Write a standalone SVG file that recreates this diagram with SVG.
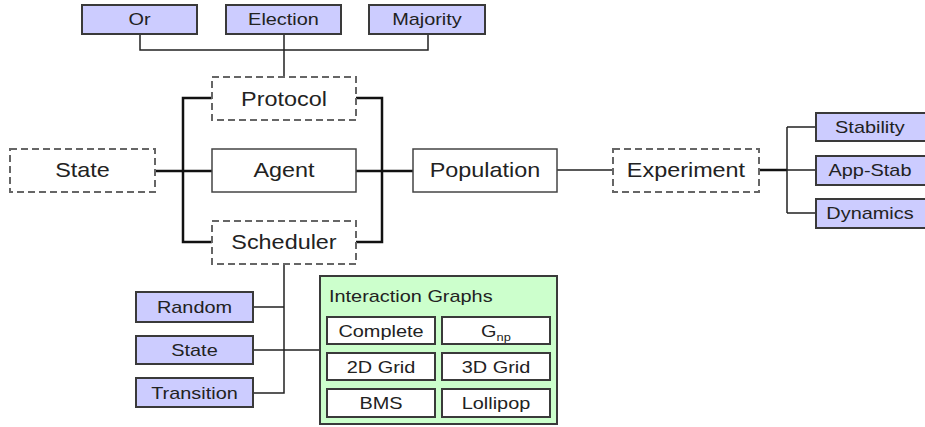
<svg xmlns="http://www.w3.org/2000/svg" width="925" height="427" viewBox="0 0 925 427">
  <style>
    .lbl { font-family: "Liberation Sans", Arial, sans-serif; fill: #222; text-anchor: middle;
           transform-box: fill-box; transform-origin: center; transform: scaleX(1.17); }
    .big { font-size: 20px; }
    .small { font-size: 17px; }
    .left { text-anchor: start; transform-origin: left center; }
    .dash { fill: #fff; stroke: #666; stroke-width: 2; stroke-dasharray: 7 4; }
    .solid { fill: #fff; stroke: #444; stroke-width: 1.5; }
    .purple { fill: #ccccff; stroke: #3a3a3a; stroke-width: 2; }
    .green { fill: #ccffcc; stroke: #3a3a3a; stroke-width: 2; }
    .cell { fill: #fff; stroke: #3a3a3a; stroke-width: 2; }
    .wire { fill: none; stroke: #222; stroke-width: 1.5; }
    .bold { fill: none; stroke: #111; stroke-width: 2.5; }
  </style>

  <g id="connectors">
    <!-- protocol variants -->
    <path class="wire" d="M140 34 V50 H428 V34 M284 34 V77"/>
    <!-- agent brackets -->
    <path class="bold" d="M212 98 H183 V242 H212 M356 98 H382 V242 H356"/>
    <path class="bold" d="M155 171 H212 M356 171 H413"/>
    <!-- population to experiment -->
    <path class="wire" d="M557 170 H613"/>
    <!-- experiment outcomes -->
    <path class="bold" d="M759 170 H787"/>
    <path class="wire" d="M787 170 H816 M787 127 V213 M787 127 H816 M787 213 H816"/>
    <!-- scheduler variants -->
    <path class="wire" d="M284 264 V393 H253 M253 307 H284 M253 350 H320"/>
  </g>

  <g id="or"><rect class="purple" x="82" y="5" width="115" height="29"/><text class="lbl small" x="139.5" y="25">Or</text></g>
  <g id="election"><rect class="purple" x="226" y="5" width="115" height="29"/><text class="lbl small" x="283.5" y="25">Election</text></g>
  <g id="majority"><rect class="purple" x="369" y="5" width="116" height="29"/><text class="lbl small" x="427" y="25">Majority</text></g>

  <g id="protocol"><rect class="dash" x="212" y="77" width="144" height="43"/><text class="lbl big" x="284" y="106">Protocol</text></g>
  <g id="state"><rect class="dash" x="10" y="149" width="145" height="43"/><text class="lbl big" x="82.5" y="177">State</text></g>
  <g id="agent"><rect class="solid" x="212" y="149" width="144" height="43"/><text class="lbl big" x="284" y="177">Agent</text></g>
  <g id="scheduler"><rect class="dash" x="212" y="221" width="144" height="43"/><text class="lbl big" x="284" y="249">Scheduler</text></g>
  <g id="population"><rect class="solid" x="413" y="149" width="144" height="43"/><text class="lbl big" x="485" y="177">Population</text></g>
  <g id="experiment"><rect class="dash" x="613" y="149" width="146" height="43"/><text class="lbl big" x="686" y="177">Experiment</text></g>

  <g id="stability"><rect class="purple" x="816" y="113" width="112" height="28"/><text class="lbl small" x="870" y="133">Stability</text></g>
  <g id="app-stab"><rect class="purple" x="816" y="156" width="112" height="29"/><text class="lbl small" x="870" y="176">App-Stab</text></g>
  <g id="dynamics"><rect class="purple" x="816" y="199" width="112" height="29"/><text class="lbl small" x="870" y="219">Dynamics</text></g>

  <g id="random"><rect class="purple" x="136" y="292" width="117" height="30"/><text class="lbl small" x="194.5" y="313">Random</text></g>
  <g id="state-sched"><rect class="purple" x="136" y="336" width="117" height="28"/><text class="lbl small" x="194.5" y="356">State</text></g>
  <g id="transition"><rect class="purple" x="136" y="378" width="117" height="29"/><text class="lbl small" x="194.5" y="399">Transition</text></g>

  <g id="interaction-graphs">
    <rect class="green" x="320" y="276" width="237" height="148"/>
    <text class="lbl small left" x="329" y="302">Interaction Graphs</text>
    <rect class="cell" x="327" y="317" width="108" height="27"/><text class="lbl small" x="381" y="337">Complete</text>
    <rect class="cell" x="442" y="317" width="108" height="27"/><text class="lbl small" x="496" y="337">G<tspan font-size="11" dy="4">np</tspan></text>
    <rect class="cell" x="327" y="353" width="108" height="27"/><text class="lbl small" x="381" y="373">2D Grid</text>
    <rect class="cell" x="442" y="353" width="108" height="27"/><text class="lbl small" x="496" y="373">3D Grid</text>
    <rect class="cell" x="327" y="389" width="108" height="28"/><text class="lbl small" x="381" y="409">BMS</text>
    <rect class="cell" x="442" y="389" width="108" height="28"/><text class="lbl small" x="496" y="409">Lollipop</text>
  </g>
</svg>
